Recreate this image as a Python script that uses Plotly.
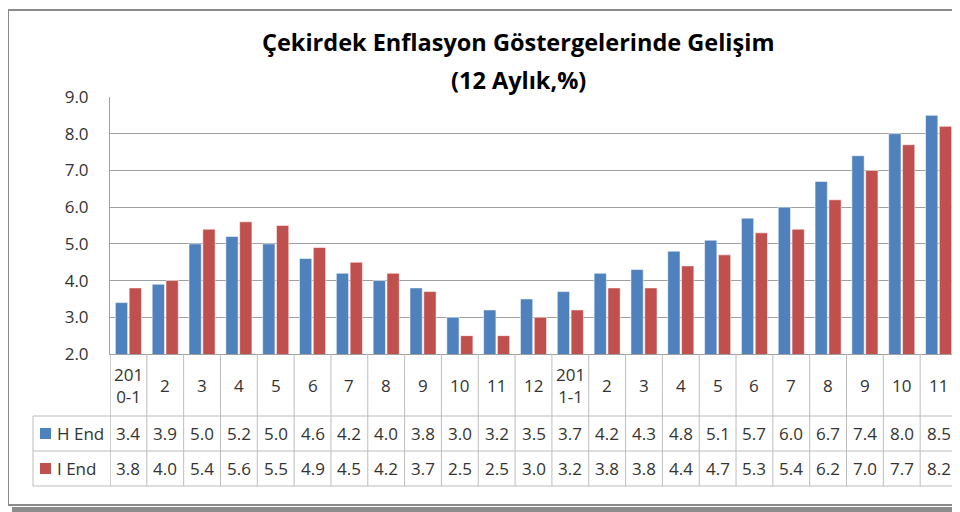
import plotly.graph_objects as go

categories = ["201<br>0-1", "2", "3", "4", "5", "6", "7", "8", "9", "10", "11", "12",
              "201<br>1-1", "2", "3", "4", "5", "6", "7", "8", "9", "10", "11"]
h_end = [3.4, 3.9, 5.0, 5.2, 5.0, 4.6, 4.2, 4.0, 3.8, 3.0, 3.2, 3.5,
         3.7, 4.2, 4.3, 4.8, 5.1, 5.7, 6.0, 6.7, 7.4, 8.0, 8.5]
i_end = [3.8, 4.0, 5.4, 5.6, 5.5, 4.9, 4.5, 4.2, 3.7, 2.5, 2.5, 3.0,
         3.2, 3.8, 3.8, 4.4, 4.7, 5.3, 5.4, 6.2, 7.0, 7.7, 8.2]
series_names = ["H End", "I End"]
y_ticks = [2.0, 3.0, 4.0, 5.0, 6.0, 7.0, 8.0, 9.0]
title_lines = ["Çekirdek Enflasyon Göstergelerinde Gelişim", "(12 Aylık,%)"]

BLUE = "#4F81BD"
RED = "#C0504D"
FONT = "Open Sans"
TXT = "#333333"
GRID = "#A0A0A0"
TLINE = "#BDBDBD"
FS = 17

# page body has an 8px margin: design in screen pixels, offset into figure coords
OX, OY = 8, 8
W_IMG, H_IMG = 960 - OX, 512 - OY
L, R, T, B = 110, 957, 97, 354
PW, PH = R - L, B - T


def px_x(x):
    return (x - L) / PW


def px_y(y):
    return (B - y) / PH


idx = list(range(len(categories)))

fig = go.Figure()
for name, vals, col in [(series_names[0], h_end, BLUE), (series_names[1], i_end, RED)]:
    fig.add_trace(go.Bar(
        x=idx, y=vals, name=name, marker=dict(color=col, line=dict(color="rgba(255,255,255,0.55)", width=1)),
        hoverinfo="skip", showlegend=False,
    ))

shapes = []
annotations = []

# Outer frame + shadow
shapes.append(dict(type="rect", xref="paper", yref="paper", x0=px_x(12), x1=px_x(990),
                   y0=px_y(515), y1=px_y(507), fillcolor="#8C8C8C", line=dict(width=0), layer="below"))
shapes.append(dict(type="rect", xref="paper", yref="paper", x0=px_x(8), x1=px_x(990),
                   y0=px_y(505), y1=px_y(10), line=dict(color="#8A8A8A", width=2),
                   fillcolor="white", layer="below"))

# Table horizontal lines
for yy in [416, 451, 486]:
    shapes.append(dict(type="line", xref="paper", yref="paper", x0=px_x(33), x1=1,
                       y0=px_y(yy), y1=px_y(yy), line=dict(color=TLINE, width=1)))
# left vertical of legend column
shapes.append(dict(type="line", xref="paper", yref="paper", x0=px_x(33), x1=px_x(33),
                   y0=px_y(416), y1=px_y(486), line=dict(color=TLINE, width=1)))
# category column separators
for i in range(len(categories) + 1):
    shapes.append(dict(type="line", xref="x", yref="paper", x0=i - 0.5, x1=i - 0.5,
                       y0=px_y(354), y1=px_y(486),
                       line=dict(color=GRID if i == 0 else TLINE, width=1)))

# Category labels
for i, c in enumerate(categories):
    annotations.append(dict(x=i, xref="x", y=px_y(385), yref="paper", text=c, showarrow=False,
                            font=dict(family=FONT, size=FS, color=TXT), xanchor="center",
                            yanchor="middle"))
# Values
for i in idx:
    annotations.append(dict(x=i, xref="x", y=px_y(433.5), yref="paper", text=f"{h_end[i]:.1f}",
                            showarrow=False, font=dict(family=FONT, size=FS, color=TXT),
                            xanchor="center", yanchor="middle"))
    annotations.append(dict(x=i, xref="x", y=px_y(468.5), yref="paper", text=f"{i_end[i]:.1f}",
                            showarrow=False, font=dict(family=FONT, size=FS, color=TXT),
                            xanchor="center", yanchor="middle"))

# Legend keys in table
for yy, col, name in [(433.5, BLUE, series_names[0]), (468.5, RED, series_names[1])]:
    shapes.append(dict(type="rect", xref="paper", yref="paper", x0=px_x(40), x1=px_x(51),
                       y0=px_y(yy + 5.5), y1=px_y(yy - 5.5), fillcolor=col, line=dict(width=0)))
    annotations.append(dict(x=px_x(55), xref="paper", y=px_y(yy), yref="paper", text=name,
                            showarrow=False, font=dict(family=FONT, size=FS, color=TXT),
                            xanchor="left", yanchor="middle"))

# Title
for yy, t in [(42, title_lines[0]), (80, title_lines[1])]:
    annotations.append(dict(x=px_x(518), xref="paper", y=px_y(yy), yref="paper", text=f"<b>{t}</b>",
                            showarrow=False, font=dict(family=FONT, size=23.5, color="#000000"),
                            xanchor="center", yanchor="middle"))

fig.update_layout(
    width=W_IMG, height=H_IMG,
    margin=dict(l=L - OX, r=960 - R, t=T - OY, b=512 - B, pad=0),
    paper_bgcolor="white", plot_bgcolor="white",
    barmode="group", bargap=0.25, bargroupgap=0.11,
    shapes=shapes, annotations=annotations,
    xaxis=dict(range=[-0.5, len(categories) - 0.5], showticklabels=False, showgrid=False,
               zeroline=False, showline=True, linecolor=GRID, linewidth=1, ticks=""),
    yaxis=dict(range=[2, 9], tickvals=y_ticks, ticktext=[f"{v:.1f}" for v in y_ticks],
               showgrid=True, gridcolor=GRID, gridwidth=1, zeroline=False,
               showline=True, linecolor=GRID, linewidth=1, mirror=False,
               ticks="outside", ticklen=17, tickcolor="rgba(0,0,0,0)",
               tickfont=dict(family=FONT, size=FS, color=TXT)),
    font=dict(family=FONT),
)

fig.write_html("out.html", config={"displayModeBar": False})
